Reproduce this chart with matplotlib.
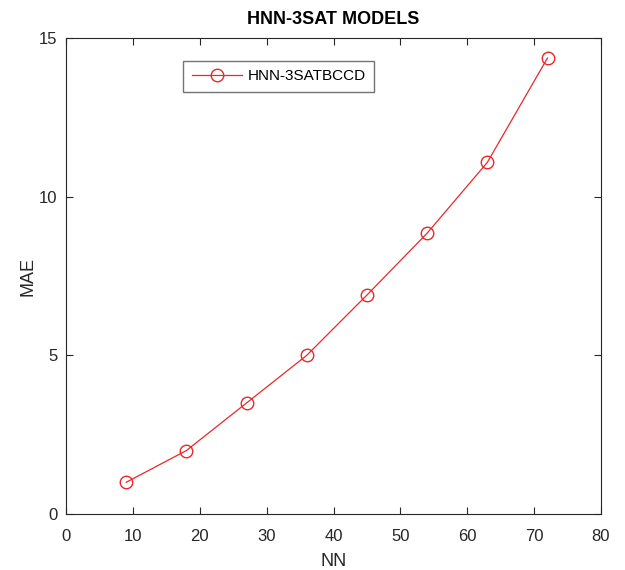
import matplotlib.pyplot as plt

plt.rcParams['font.family'] = ['Liberation Sans', 'DejaVu Sans']

# Data
nn = [9, 18, 27, 36, 45, 54, 63, 72]
mae = [1.0, 2.0, 3.5, 5.0, 6.9, 8.85, 11.08, 14.37]
x_ticks = [0, 10, 20, 30, 40, 50, 60, 70, 80]
y_ticks = [0, 5, 10, 15]

fig = plt.figure(figsize=(6.25, 5.7), dpi=100)
ax = fig.add_axes([0.1056, 0.0982, 0.8560, 0.8351])

ax.plot(nn, mae, color='#e8282b', linewidth=0.9, marker='o', markersize=9,
        markerfacecolor='none', markeredgecolor='#e8282b', markeredgewidth=1.0,
        label='HNN-3SATBCCD')

ax.set_xlim(0, 80)
ax.set_ylim(0, 15)
ax.set_xticks(x_ticks)
ax.set_yticks(y_ticks)
ax.tick_params(direction='in', top=True, right=True, length=5, width=0.8,
               labelsize=12, colors='#262626')
ax.tick_params(axis='x', pad=11)
ax.tick_params(axis='y', pad=6)
for s in ax.spines.values():
    s.set_color('#262626')
    s.set_linewidth(0.8)

ax.set_xlabel('NN', fontsize=13, color='#262626', labelpad=6)
ax.set_ylabel('MAE', fontsize=13, color='#262626', labelpad=2)
ax.set_title('HNN-3SAT MODELS', fontsize=13, fontweight='bold', pad=10)

leg = ax.legend(loc='upper left', bbox_to_anchor=(0.219, 0.952), fontsize=11,
                frameon=True, fancybox=False, edgecolor='#505050',
                borderpad=0.55, handlelength=3.3, handletextpad=0.35,
                borderaxespad=0)
leg.get_frame().set_linewidth(1.0)

fig.savefig('out.png', dpi=100)
